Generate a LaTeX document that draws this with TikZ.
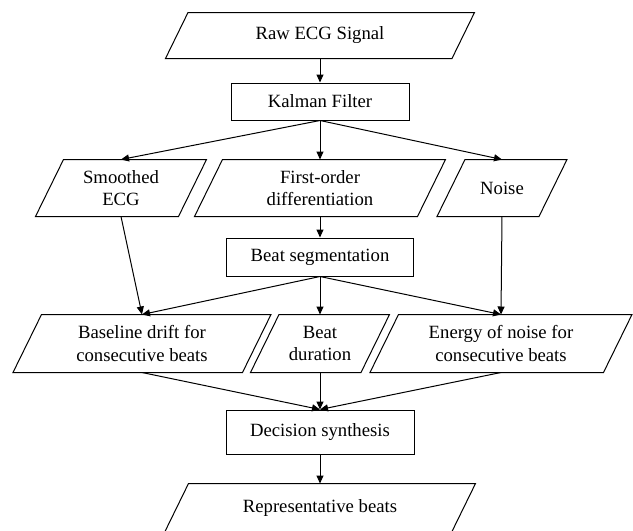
\documentclass[tikz,border=0pt]{standalone}
\usepackage{fontspec}
\setmainfont{Liberation Serif}
\usetikzlibrary{positioning,arrows.meta}

\begin{document}
\begin{tikzpicture}[x=1pt, y=-1pt, line width=1pt,
  >={Triangle[length=8pt,width=7pt]},
  every node/.style={font=\fontsize{18.7}{22.6}\selectfont},
  proc/.style={draw, shape=rectangle, inner sep=0pt},
  io/.style={shape=rectangle, inner sep=0pt, align=center,
    append after command={\pgfextra{\draw ([xshift=#1]\tikzlastnode.north west) -- (\tikzlastnode.north east)
      -- ([xshift=-#1]\tikzlastnode.south east) -- (\tikzlastnode.south west) -- cycle;}}}]
\useasboundingbox (0,0) rectangle (633,531);
\node[io=22.5pt, minimum width=308pt, minimum height=45pt] (raw) at (320,35.5) {Raw ECG Signal};
\node[proc, minimum width=178pt, minimum height=37pt, below of=raw, node distance=66pt] (kal) {Kalman Filter};
\node[io=28pt, minimum width=250pt, minimum height=56pt, below of=kal, node distance=86.5pt] (diff) {First-order\\differentiation};
\node[io=28pt, minimum width=170pt, minimum height=56pt, left of=diff, node distance=199pt] (smooth) {Smoothed\\ECG};
\node[io=28pt, minimum width=129pt, minimum height=56pt, right of=diff, node distance=182pt] (noise) {Noise};
\node[proc, minimum width=187pt, minimum height=38pt, below of=diff, node distance=69pt] (seg) {Beat segmentation};
\node[io=28.5pt, minimum width=138pt, minimum height=57pt, below of=seg, node distance=86.5pt] (dur) {Beat\\duration};
\node[io=28.5pt, minimum width=257pt, minimum height=57pt, left of=dur, node distance=178pt] (base) {Baseline drift for\\consecutive beats};
\node[io=28.5pt, minimum width=261pt, minimum height=57pt, right of=dur, node distance=181pt] (energy) {Energy of noise for\\consecutive beats};
\node[proc, minimum width=188pt, minimum height=44pt, below of=dur, node distance=88.5pt] (dec) {Decision synthesis};
\node[io=24pt, minimum width=310pt, minimum height=48pt, below of=dec, node distance=76pt] (rep) {Representative beats};
\draw[->] (raw.south) -- (kal.north);
\draw[->] (kal.south) -- (smooth.north);
\draw[->] (kal.south) -- (diff.north);
\draw[->] (kal.south) -- (noise.north);
\draw[->] (diff.south) -- (seg.north);
\draw[->] (smooth.south) -- (base.north);
\draw[->] (noise.south) -- (energy.north);
\draw[->] (seg.south) -- (base.north);
\draw[->] (seg.south) -- (dur.north);
\draw[->] (seg.south) -- (energy.north);
\draw[->] (base.south) -- (dec.north);
\draw[->] (dur.south) -- (dec.north);
\draw[->] (energy.south) -- (dec.north);
\draw[->] (dec.south) -- (rep.north);
\end{tikzpicture}
\end{document}
